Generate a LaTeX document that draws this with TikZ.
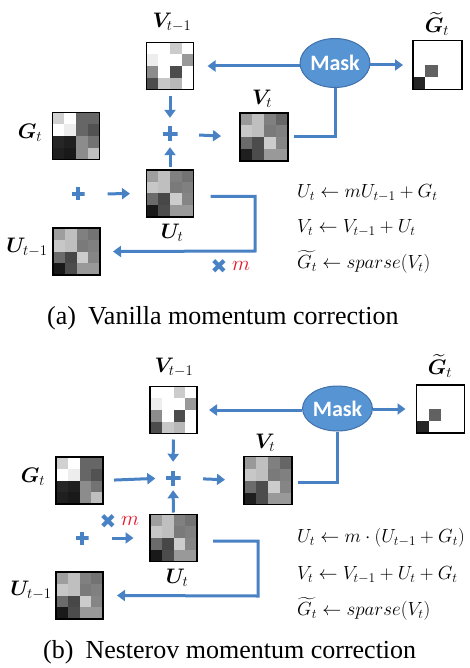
\RequirePackage{fix-cm}
\documentclass[tikz,border=0pt]{standalone}
\usepackage{amsmath,bm}
\usepackage{fontspec}
\newfontfamily\capfont{Liberation Serif}
\newfontfamily\maskfont{Carlito}
\newfontfamily\symfont{DejaVu Sans}
\usetikzlibrary{arrows.meta,calc,shapes.geometric}
\definecolor{myblue}{RGB}{72,130,196}
\definecolor{maskfill}{RGB}{86,148,211}
\definecolor{maskedge}{RGB}{65,113,170}
\definecolor{myred}{RGB}{230,20,40}

\newcommand\drawmat[4]{%
  \node[minimum size=#3pt, inner sep=0pt, outer sep=0pt] (#1) at #2 {};
  \foreach \v [count=\i from 0] in #4 {
    \pgfmathtruncatemacro\mr{int(\i/4)}
    \pgfmathtruncatemacro\mc{mod(\i,4)}
    \fill[white!\v!black] ($(#1.north west)+(\mc*#3/4,\mr*#3/4)$) rectangle ++(#3/4,#3/4);
  }
  \draw[line width=1.2pt] (#1.north west) rectangle (#1.south east);
}
\newcommand\VPREV{100,100,80,100,93,100,100,60,55,100,30,100,30,78,72,100}
\newcommand\GMAT{82,100,40,40,100,93,40,32,15,12,55,45,12,10,55,75}
\newcommand\UMAT{62,75,50,45,78,75,48,50,42,28,80,52,10,30,60,60}
\newcommand\VMAT{60,75,50,40,78,75,48,50,42,30,80,52,12,30,60,60}
\newcommand\GTIL{100,100,100,100,100,100,100,100,100,38,100,100,15,100,100,100}

\tikzset{
  arr/.style={draw=myblue, line width=3pt, -{Triangle[width=11pt,length=8pt]}},
  conn/.style={draw=myblue, line width=3pt},
  plusnode/.style={minimum size=15pt, inner sep=0pt,
    path picture={\draw[myblue,line width=4.5pt]
      (path picture bounding box.north) -- (path picture bounding box.south)
      (path picture bounding box.west) -- (path picture bounding box.east);}},
  lbl/.style={font=\fontsize{21}{24}\selectfont, inner sep=0pt},
  eq/.style={anchor=west, font=\fontsize{19}{22}\selectfont, inner sep=0pt},
  maskst/.style={ellipse, fill=maskfill, draw=maskedge, line width=1pt,
    minimum width=57pt, minimum height=49pt, inner sep=0pt, text=white,
    font=\maskfont\bfseries\fontsize{22}{24}\selectfont},
  xst/.style={text=myblue, font=\symfont\fontsize{20}{22}\selectfont, inner sep=0pt},
  mst/.style={text=myred, font=\fontsize{21}{24}\selectfont, inner sep=0pt},
  capst/.style={anchor=west, font=\capfont\fontsize{26}{30}\selectfont, inner sep=0pt},
}

\begin{document}
\begin{tikzpicture}[x=1pt,y=-1pt]
\useasboundingbox (0,0) rectangle (469,668);
\fill[white] (0,0) rectangle (469,668);

% ---------- (a) ----------
\drawmat{vprevA}{(170,66)}{47}{\VPREV}
\node[lbl] (vprevAl) at (172,22) {$\bm{V}_{t-1}$};
\node[maskst] (maskA) at (335,63) {Mask};
\drawmat{gtilA}{(437.5,65)}{49}{\GTIL}
\node[lbl] (gtilAl) at (437,24) {$\widetilde{\bm{G}}_t$};
\node[plusnode] (plusA) at (170,134) {};
\drawmat{vtA}{(264,137)}{48}{\VMAT}
\node[lbl] (vtAl) at (262,99) {$\bm{V}_t$};
\drawmat{gtA}{(76,136)}{47}{\GMAT}
\node[lbl] (gtAl) at (30,133) {$\bm{G}_t$};
\node[plusnode, minimum size=13pt] (plusA2) at (78,194) {};
\drawmat{utA}{(170,193.5)}{47}{\UMAT}
\node[lbl] (utAl) at (172,233) {$\bm{U}_t$};
\drawmat{uprevA}{(76.5,251.5)}{47}{\UMAT}
\node[lbl] (uprevAl) at (27,247) {$\bm{U}_{t-1}$};
\node[xst] (xA) at (219,267) {✖};
\node[mst] (mA) at (241,266) {$m$};
\node[eq] (eqA1) at (297,193) {$U_t \leftarrow mU_{t-1}+G_t$};
\node[eq] (eqA2) at (297,228) {$V_t \leftarrow V_{t-1}+U_t$};
\node[eq] (eqA3) at (297,262) {$\widetilde{G_t} \leftarrow sparse(V_t)$};
\node[capst] (capA) at (47,318) {(a)\hspace{12pt}Vanilla momentum correction};

\draw[arr] (maskA.west |- vprevA) -- ($(vprevA.east)+(14,0)$);
\draw[arr] (maskA.east |- gtilA) -- ($(gtilA.west)+(-10,0)$);
\draw[arr, shorten <=7pt, shorten >=8.5pt] (vprevA.south) -- (plusA.north);
\draw[arr, shorten <=3pt, shorten >=5.5pt] (utA.north) -- (plusA.south);
\draw[arr, shorten <=21.5pt, shorten >=19pt] (plusA.east) -- (vtA.west);
\draw[conn] ($(vtA.east)+(6,0)$) -| (maskA.south);
\draw[arr, shorten <=23pt, shorten >=16.5pt] (plusA2.east) -- (utA.west);
\coordinate (cornA) at (255,251);
\draw[arr] ($(utA.east)+(17,3)$) -| (cornA) -- ($(uprevA.east)+(13,0)$);

% ---------- (b) ----------
\drawmat{vprevB}{(173.5,410)}{47}{\VPREV}
\node[lbl] (vprevBl) at (174,367) {$\bm{V}_{t-1}$};
\node[maskst, minimum width=58pt, minimum height=45pt] (maskB) at (337.5,408.5) {Mask};
\drawmat{gtilB}{(440.5,409)}{48}{\GTIL}
\node[lbl] (gtilBl) at (440,366) {$\widetilde{\bm{G}}_t$};
\node[plusnode] (plusB) at (173,478) {};
\drawmat{vtB}{(268,480.5)}{48}{\VMAT}
\node[lbl] (vtBl) at (265,443) {$\bm{V}_t$};
\drawmat{gtB}{(79.5,480.5)}{47}{\GMAT}
\node[lbl] (gtBl) at (33,477) {$\bm{G}_t$};
\node[xst] (xB) at (108,522) {✖};
\node[mst] (mB) at (130,521) {$m$};
\node[plusnode, minimum size=13pt] (plusB2) at (82,538) {};
\drawmat{utB}{(173.5,538)}{47}{\UMAT}
\node[lbl] (utBl) at (177,578) {$\bm{U}_t$};
\drawmat{uprevB}{(79.5,595.5)}{47}{\UMAT}
\node[lbl] (uprevBl) at (31,590) {$\bm{U}_{t-1}$};
\node[eq] (eqB1) at (297,538) {$U_t \leftarrow m\cdot(U_{t-1}+G_t)$};
\node[eq] (eqB2) at (297,575) {$V_t \leftarrow V_{t-1}+U_t+G_t$};
\node[eq] (eqB3) at (297,609) {$\widetilde{G_t} \leftarrow sparse(V_t)$};
\node[capst] (capB) at (43,652) {(b)\hspace{12pt}Nesterov momentum correction};

\draw[arr] (maskB.west |- vprevB) -- ($(vprevB.east)+(12,0)$);
\draw[arr] (maskB.east |- gtilB) -- ($(gtilB.west)+(-11,0)$);
\draw[arr, shorten <=6pt, shorten >=8.5pt] (vprevB.south) -- (plusB.north);
\draw[arr, shorten <=2pt, shorten >=4.5pt] (utB.north) -- (plusB.south);
\draw[arr, shorten <=11pt, shorten >=10pt] (gtB.east) -- (plusB.west);
\draw[arr, shorten <=22.5pt, shorten >=19pt] (plusB.east) -- (vtB.west);
\draw[conn] ($(vtB.east)+(6,1.5)$) -| (maskB.south);
\draw[arr, shorten <=23pt, shorten >=16.5pt] (plusB2.east) -- (utB.west);
\coordinate (cornB) at (258,596);
\draw[arr] ($(utB.east)+(16,3)$) -| (cornB) -- ($(uprevB.east)+(14,0)$);
\end{tikzpicture}
\end{document}
